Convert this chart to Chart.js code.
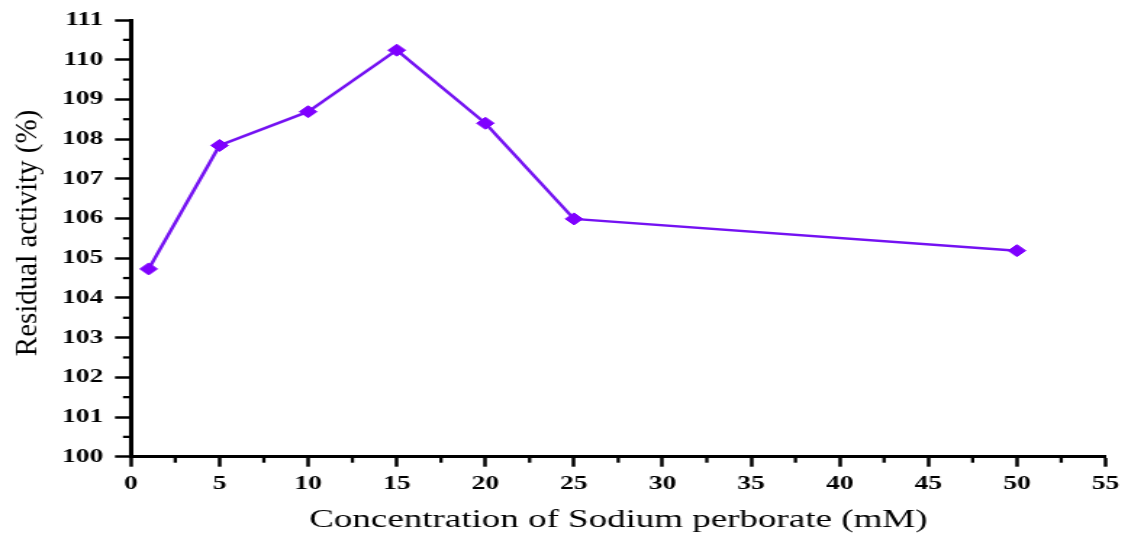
<!DOCTYPE html>
<html>
<head>
<meta charset="utf-8">
<script src="https://cdn.jsdelivr.net/npm/chart.js@4/dist/chart.umd.min.js"></script>
<style>
  html, body { margin: 0; padding: 0; background: #fff; overflow: hidden; }
  canvas { display: block; }
</style>
</head>
<body>
<!-- drawn narrow and widened by CSS, giving the wide, stretched lettering and diamonds -->
<canvas id="c" width="778" height="533" style="width:1128px;height:533px"></canvas>
<script>
// Sodium perborate concentration (mM) and residual enzyme activity (%)
const concentrations = [1, 5, 10, 15, 20, 25, 50];
const residualActivity = [104.73, 107.84, 108.69, 110.24, 108.40, 105.99, 105.19];

const xMajorTicks = [0, 5, 10, 15, 20, 25, 30, 35, 40, 45, 50, 55];
const xMinorTicks = [2.5, 7.5, 12.5, 17.5, 22.5, 27.5, 32.5, 37.5, 42.5, 47.5, 52.5];
const yMajorTicks = [100, 101, 102, 103, 104, 105, 106, 107, 108, 109, 110, 111];
const yMinorTicks = [100.5, 101.5, 102.5, 103.5, 104.5, 105.5, 106.5, 107.5, 108.5, 109.5, 110.5];

const xTitle = 'Concentration of Sodium perborate (mM)';
const yTitle = 'Residual activity (%)';

const STRETCH = 1128 / 778;
const SERIF = '"Liberation Serif", "Times New Roman", serif';

const points = concentrations.map((c, i) => ({ x: c, y: residualActivity[i] }));

// short minor ticks plus both axis titles
const axisExtras = {
  id: 'axisExtras',
  afterDraw(chart) {
    const ctx = chart.ctx;
    const xs = chart.scales.x, ys = chart.scales.y;
    const area = chart.chartArea;
    ctx.save();
    ctx.strokeStyle = '#000';
    ctx.lineWidth = 2.3;
    xMinorTicks.forEach(v => {
      const px = xs.getPixelForValue(v);
      ctx.beginPath();
      ctx.moveTo(px, area.bottom);
      ctx.lineTo(px, area.bottom + 6);
      ctx.stroke();
    });
    yMinorTicks.forEach(v => {
      const py = ys.getPixelForValue(v);
      ctx.beginPath();
      ctx.moveTo(area.left, py);
      ctx.lineTo(area.left - 5.5, py);
      ctx.stroke();
    });

    ctx.fillStyle = '#000';
    // x title
    ctx.font = '25.5px ' + SERIF;
    ctx.textAlign = 'center';
    ctx.textBaseline = 'alphabetic';
    ctx.fillText(xTitle, 426.5, 527);

    // y title, kept at natural proportions despite the horizontal widening
    ctx.translate(24.8, 233);
    ctx.scale(1 / STRETCH, 1);
    ctx.rotate(-Math.PI / 2);
    ctx.font = '29px ' + SERIF;
    ctx.fillText(yTitle, 0, 0);
    ctx.restore();
  }
};

new Chart(document.getElementById('c'), {
  type: 'line',
  data: {
    datasets: [{
      data: points,
      borderColor: '#7412f2',
      borderWidth: 2.5,
      backgroundColor: '#7f00ff',
      pointStyle: 'rectRot',
      pointRadius: 6,
      pointBorderWidth: 1,
      pointBorderColor: '#7f00ff',
      pointBackgroundColor: '#7f00ff',
      tension: 0,
      clip: false
    }]
  },
  options: {
    responsive: false,
    animation: false,
    devicePixelRatio: 1,
    layout: { padding: { top: 20, right: 13.2, left: 0, bottom: 0 } },
    plugins: {
      legend: { display: false },
      tooltip: { enabled: false }
    },
    scales: {
      x: {
        type: 'linear',
        min: 0,
        max: 55,
        afterBuildTicks: s => { s.ticks = xMajorTicks.map(v => ({ value: v })); },
        afterFit: s => { s.height = 76.3; },
        ticks: {
          color: '#000',
          font: { family: SERIF, size: 19, weight: 'bold' },
          padding: 6,
          maxRotation: 0,
          autoSkip: false
        },
        grid: {
          drawOnChartArea: false,
          drawTicks: true,
          tickLength: 10,
          tickWidth: 2.5,
          tickColor: '#000'
        },
        border: { color: '#000', width: 3 }
      },
      y: {
        min: 100,
        max: 111,
        afterBuildTicks: s => { s.ticks = yMajorTicks.map(v => ({ value: v })); },
        afterFit: s => { s.width = 90.3; },
        ticks: {
          color: '#000',
          font: { family: SERIF, size: 19, weight: 'bold' },
          padding: 8,
          autoSkip: false
        },
        grid: {
          drawOnChartArea: false,
          drawTicks: true,
          tickLength: 11,
          tickWidth: 2.5,
          tickColor: '#000'
        },
        border: { color: '#000', width: 3 }
      }
    }
  },
  plugins: [axisExtras]
});
</script>
</body>
</html>
